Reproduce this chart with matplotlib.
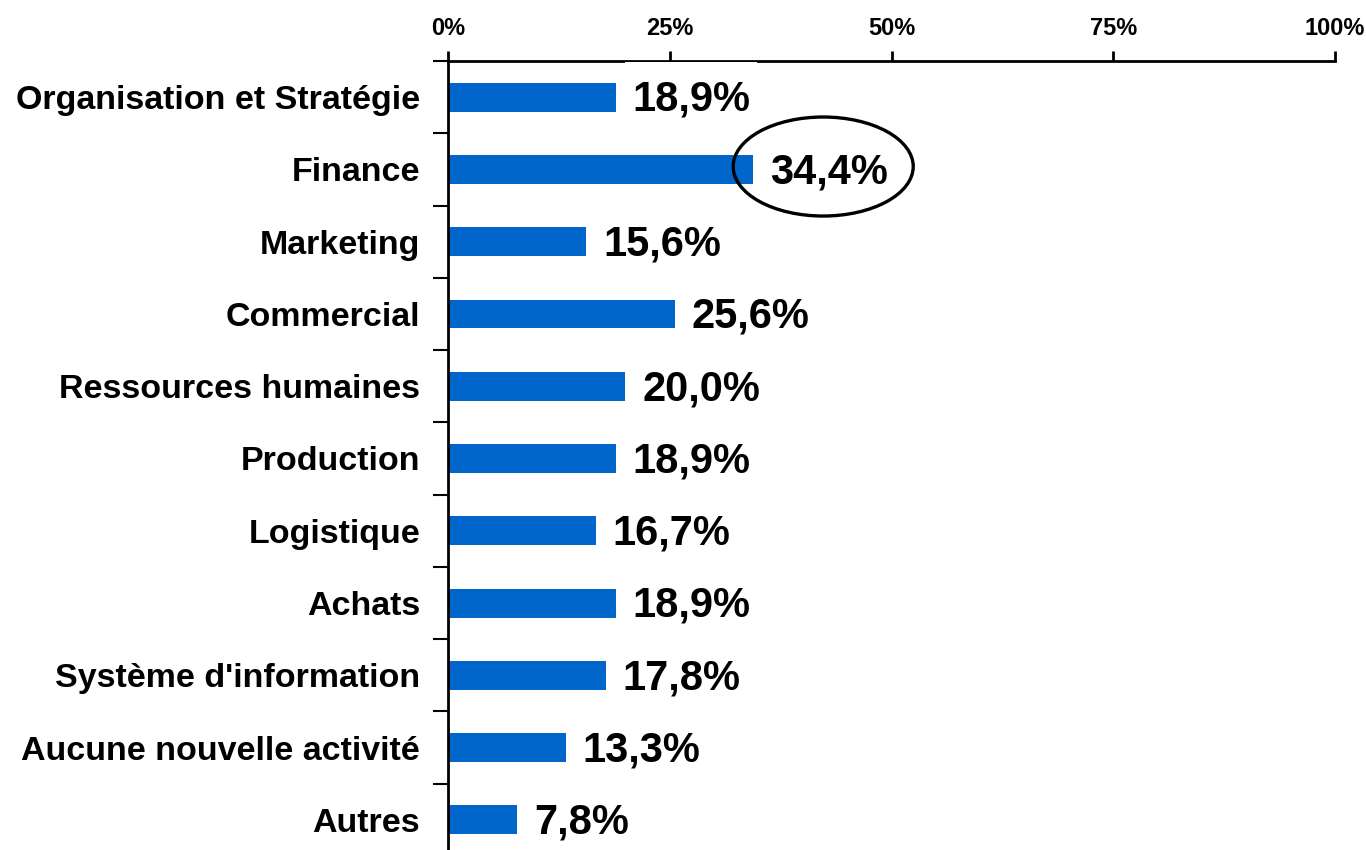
import matplotlib
matplotlib.use("Agg")
import matplotlib.pyplot as plt
from matplotlib.patches import Ellipse, Rectangle
from matplotlib.ticker import FixedLocator
import numpy as np

categories = ["Organisation et Stratégie", "Finance", "Marketing", "Commercial",
              "Ressources humaines", "Production", "Logistique", "Achats",
              "Système d'information", "Aucune nouvelle activité", "Autres"]
values = [18.9, 34.4, 15.6, 25.6, 20.0, 18.9, 16.7, 18.9, 17.8, 13.3, 7.8]
value_labels = ["18,9%", "34,4%", "15,6%", "25,6%", "20,0%", "18,9%",
                "16,7%", "18,9%", "17,8%", "13,3%", "7,8%"]
xticks = [0, 25, 50, 75, 100]
xtick_labels = ["0%", "25%", "50%", "75%", "100%"]
highlight = "Finance"

plt.rcParams['font.family'] = ['Liberation Sans', 'DejaVu Sans']
plt.rcParams['font.weight'] = 'bold'

fig = plt.figure(figsize=(13.66, 8.5), dpi=100)
ax = fig.add_axes([448/1366, 1 - 856/850, (1335-448)/1366, (856-61)/850])

y = np.arange(len(categories))
ax.barh(y, values, height=0.4, color="#0066CC", zorder=2)
ax.set_xlim(0, 100)
ax.set_ylim(len(categories) - 0.5, -0.5)

ax.xaxis.tick_top()
ax.set_xticks(xticks)
ax.set_xticklabels(xtick_labels, fontsize=17, fontweight='bold')
ax.tick_params(axis='x', direction='out', length=7, width=2, pad=8)

ax.set_yticks(y)
ax.set_yticklabels(categories, fontsize=24.5, fontweight='bold')
ax.tick_params(axis='y', which='major', length=0, pad=20)
ax.yaxis.set_minor_locator(FixedLocator(np.arange(len(categories) + 1) - 0.5))
ax.tick_params(axis='y', which='minor', direction='out', length=11, width=1.5)

for s in ['right', 'bottom']:
    ax.spines[s].set_visible(False)
ax.spines['top'].set_linewidth(2)
ax.spines['left'].set_linewidth(2)
ax.spines['top'].set_zorder(1)

texts = []
for i, (v, lab) in enumerate(zip(values, value_labels)):
    t = ax.annotate(lab, xy=(v, i), xytext=(12, -2), textcoords='offset points',
                    ha='left', va='center', fontsize=30, fontweight='bold',
                    zorder=4)
    texts.append(t)

# white text boxes behind the value labels (as in the original chart)
fig.canvas.draw()
inv = ax.transData.inverted()
for t in texts:
    bb = t.get_window_extent()
    cy = (bb.y0 + bb.y1) / 2
    (x0, y0) = inv.transform((bb.x0 - 7, cy + 38))
    (x1, y1) = inv.transform((bb.x1 + 7, cy - 38))
    rect = Rectangle((x0, y0), x1 - x0, y1 - y0, facecolor='white',
                     edgecolor='none', zorder=1.5, clip_on=False)
    ax.add_patch(rect)

hi = categories.index(highlight)
ell = Ellipse((42.3, hi - 0.04), width=20.3, height=1.37, fill=False,
              edgecolor='black', linewidth=2.4, zorder=5, clip_on=False)
ax.add_patch(ell)

fig.savefig("out.png", dpi=100)
